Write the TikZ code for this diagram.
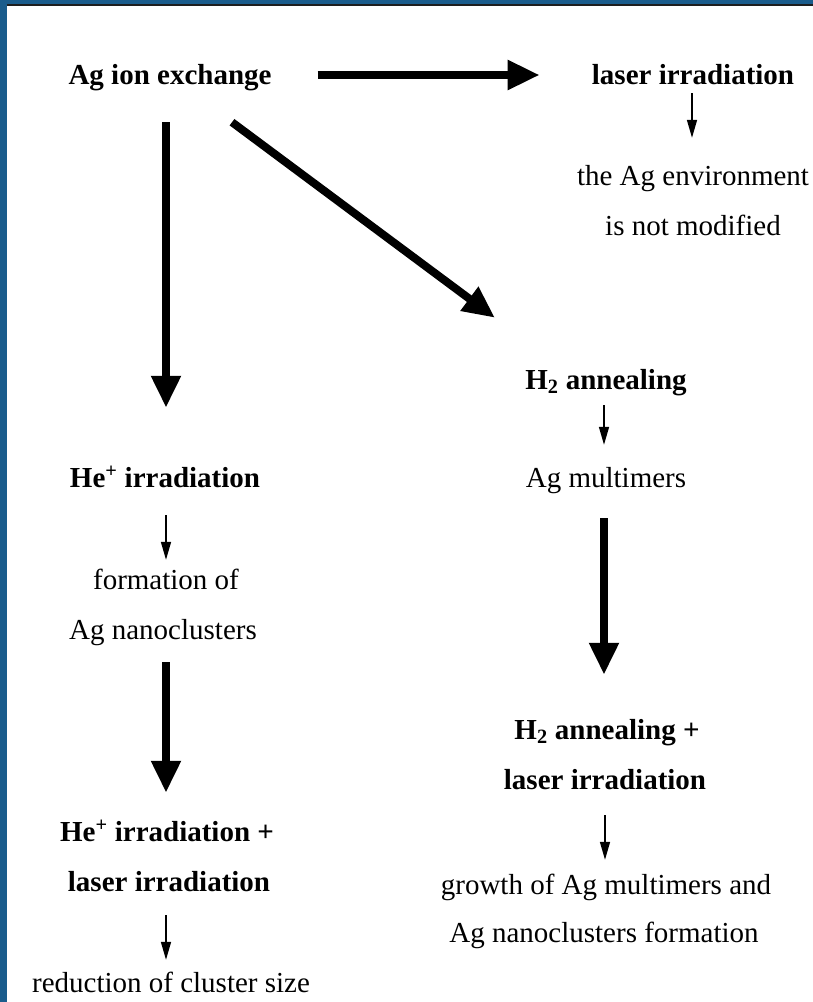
\documentclass[tikz,border=0pt]{standalone}
\usepackage{fontspec}
\setmainfont{Liberation Serif}
\usetikzlibrary{arrows.meta}
\definecolor{frameblue}{HTML}{1A5C8C}
\definecolor{framedark}{HTML}{1E1E1E}
\begin{document}
\begin{tikzpicture}[x=1pt,y=-1pt,
  lbl/.style={inner sep=0pt, anchor=base, text height=21pt, text depth=7pt,
              font=\fontsize{29}{30}\selectfont},
  blbl/.style={lbl, font=\fontsize{29}{30}\selectfont\bfseries},
  bigarrow/.style={line width=8pt, -{Triangle[width=28pt,length=32pt]}},
  smallarrow/.style={line width=1.5pt, -{Triangle[width=10pt,length=18pt]}}]
\useasboundingbox (0,0) rectangle (813,1002);
% frame
\fill[white] (0,0) rectangle (813,1002);
\fill[frameblue] (0,0) rectangle (7,1002);
\fill[frameblue] (0,0) rectangle (813,4);
\fill[framedark] (7,4) rectangle (813,5.5);

% top row
\node[blbl] (ag) at (170,84) {Ag ion exchange};
\node[blbl] (laser) at (693,84) {laser irradiation};
\node[lbl] (env1) at (693,185) {the Ag environment};
\node[lbl] (env2) at (693,235) {is not modified};

% right column
\node[blbl] (h2) at (606,389) {H\textsubscript{2} annealing};
\node[lbl] (mult) at (606,487) {Ag multimers};
\node[blbl] (h2p) at (607,739) {H\textsubscript{2} annealing +};
\node[blbl] (h2lz) at (605,789) {laser irradiation};
\node[lbl] (grow) at (606,894) {growth of Ag multimers and};
\node[lbl] (grow2) at (604,942) {Ag nanoclusters formation};

% left column
\node[blbl] (he) at (165,487) {He\textsuperscript{+} irradiation};
\node[lbl] (form) at (166,589) {formation of};
\node[lbl] (nano) at (163,639) {Ag nanoclusters};
\node[blbl] (hep) at (167,841) {He\textsuperscript{+} irradiation +};
\node[blbl] (helz) at (169,891) {laser irradiation};
\node[lbl] (red) at (171,992) {reduction of cluster size};

% big arrows
\draw[bigarrow, shorten <=46pt, shorten >=52pt]
  ([yshift=9pt]ag.base east) -- ([yshift=9pt]laser.base west);
\draw[bigarrow, shorten <=31pt, shorten >=58pt]
  ([xshift=-4pt]ag.south) -- ([xshift=-4pt]ag.south |- he.north);
\draw[bigarrow]
  ([shift={(62,31)}]ag.south) -- ([shift={(-111,-50)}]h2.north);
\draw[bigarrow, shorten <=24pt, shorten >=43pt]
  ([xshift=-2pt]mult.south) -- ([xshift=-2pt]mult.south |- h2p.north);
\draw[bigarrow, shorten <=16pt, shorten >=27pt]
  ([xshift=3pt]nano.south) -- ([xshift=3pt]nano.south |- hep.north);

% small arrows
\draw[smallarrow, shorten <=2pt, shorten >=26pt]
  ([xshift=-1pt]laser.south) -- ([xshift=-1pt]laser.south |- env1.north);
\draw[smallarrow, shorten <=9pt, shorten >=21pt]
  ([xshift=-2pt]h2.south) -- ([xshift=-2pt]h2.south |- mult.north);
\draw[smallarrow, shorten <=19pt, shorten >=13pt]
  (h2lz.south) -- (h2lz.south |- grow.north);
\draw[smallarrow, shorten <=21pt, shorten >=8pt]
  ([xshift=1pt]he.south) -- ([xshift=1pt]he.south |- form.north);
\draw[smallarrow, shorten <=17pt, shorten >=11pt]
  ([xshift=-3pt]helz.south) -- ([xshift=-3pt]helz.south |- red.north);
\end{tikzpicture}
\end{document}
